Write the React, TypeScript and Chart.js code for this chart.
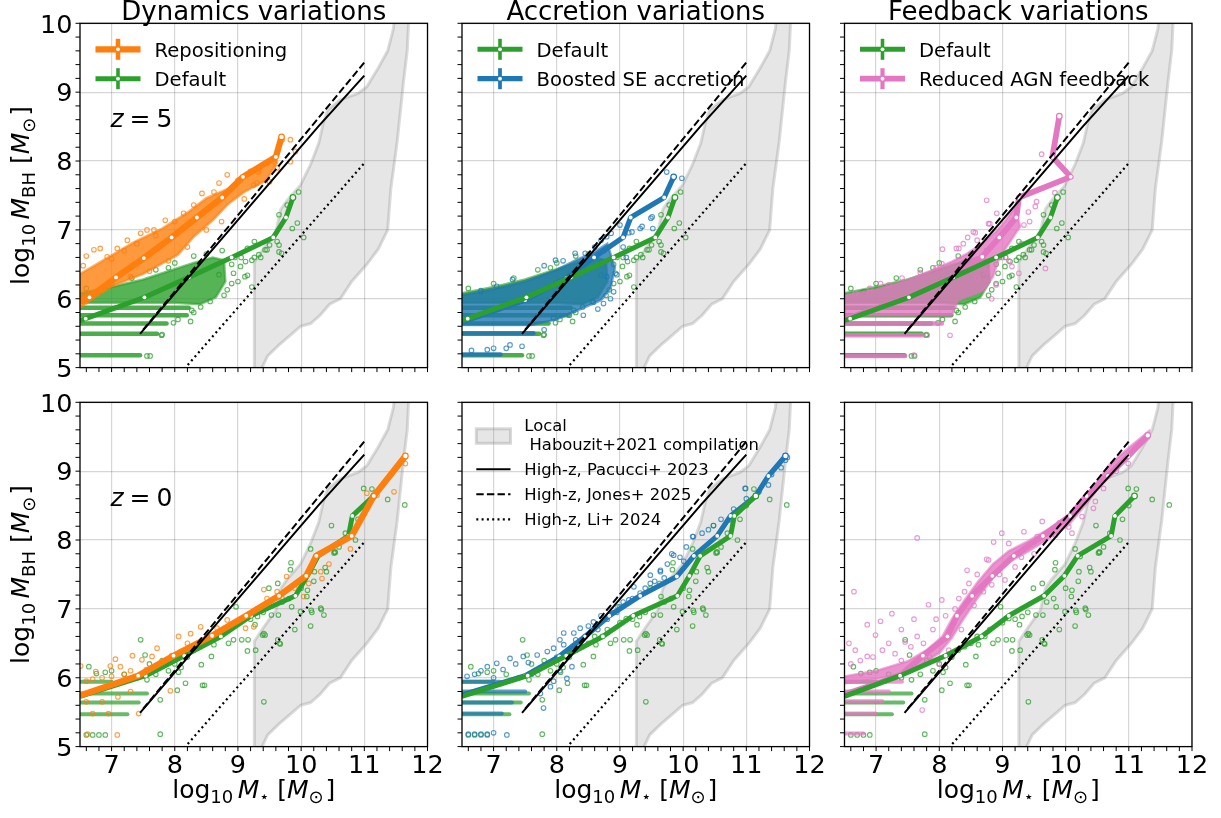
import { useEffect, useRef } from 'react';
import { Chart, registerables } from 'chart.js';

Chart.register(...registerables);

// ---------------- axes / labels ----------------
const X_MIN = 6.5, X_MAX = 12, Y_MIN = 5, Y_MAX = 10;
const X_MAJOR = [7, 8, 9, 10, 11, 12];
const Y_MAJOR = [5, 6, 7, 8, 9, 10];
const X_TICK_LABELS = ['7', '8', '9', '10', '11', '12'];
const Y_TICK_LABELS = ['5', '6', '7', '8', '9', '10'];
const MINOR_PER_UNIT = 5;
const TITLES = ['Dynamics variations', 'Accretion variations', 'Feedback variations'];
const REDSHIFTS = ['5', '0'];
const OBS_LABELS = ['Local', ' Habouzit+2021 compilation', 'High-z, Pacucci+ 2023', 'High-z, Jones+ 2025', 'High-z, Li+ 2024'];

// ---------------- observational relations ----------------
const HAB_X = [9.26, 9.26, 9.42, 9.6, 9.68, 9.78, 9.99, 10.15, 10.28, 10.35, 10.42, 10.62, 10.9, 11.04, 11.22, 11.37, 11.46, 11.49,
  11.71, 11.68, 11.62, 11.52, 11.42, 11.37, 11.22, 11.04, 10.8, 10.62, 10.45, 10.3, 10.15, 9.99, 9.84, 9.65, 9.47, 9.33];
const HAB_Y = [4.9, 6.53, 6.75, 6.98, 7.3, 7.43, 7.65, 7.95, 8.26, 8.55, 8.74, 8.89, 8.98, 9.08, 9.35, 9.6, 9.92, 10.2,
  10.2, 9.61, 9.15, 8.28, 7.6, 7.0, 6.72, 6.5, 6.25, 6.0, 5.92, 5.76, 5.64, 5.6, 5.48, 5.33, 5.17, 4.9];
const PAC_X = [7.45, 10.27, 11.0];
const PAC_Y = [5.49, 8.5, 9.24];
const JON_X = [7.5, 11.0];
const JON_Y = [5.55, 9.43];
const LI_X = [8.15, 11.0];
const LI_Y = [4.98, 7.97];

// ---------------- z = 5 : Default ----------------
const DEF_Z5_MED_X = [6.5, 6.59, 7.52, 8.22, 8.9, 9.56, 9.76, 9.87];
const DEF_Z5_MED_Y = [5.68, 5.71, 6.02, 6.31, 6.6, 6.89, 7.18, 7.47];
const DEF_Z5_POLY = [[6.5, 6.08], [7.0, 6.17], [7.5, 6.28], [7.9, 6.4], [8.3, 6.52], [8.6, 6.6], [8.78, 6.56], [8.8, 6.25], [8.65, 6.02], [8.4, 5.92], [8.0, 5.94], [7.5, 5.94], [6.5, 5.94]];
const DEF_Z5_ROWS = [[6.5, 8.22, 5.87], [6.5, 8.19, 5.76], [6.5, 7.87, 5.64], [6.5, 7.72, 5.49], [6.5, 7.45, 5.18]];
const DEF_Z5_PTS = [[9.15, 6.73], [9.12, 6.54], [9.15, 6.34], [9.22, 6.17], [9.33, 6.64], [9.43, 6.71], [9.62, 6.83], [9.65, 7.22], [9.65, 6.78], [9.65, 6.68], [9.86, 7.02], [9.94, 7.1], [9.96, 7.55], [10.04, 6.89], [9.78, 7.36], [9.26, 6.83], [9.26, 6.6], [9.46, 6.71], [9.04, 6.47], [8.93, 6.37], [8.83, 6.13], [8.78, 6.05], [8.56, 5.96], [8.41, 5.88], [8.25, 5.67], [7.98, 5.65], [7.8, 5.48], [7.56, 5.17], [7.61, 5.17], [8.9, 6.5], [8.95, 6.6], [9.05, 6.6], [8.7, 6.35], [8.9, 6.22], [8.75, 6.7], [8.5, 6.65], [8.3, 6.62], [8.0, 6.52], [7.7, 6.42], [7.32, 6.3], [7.9, 6.45], [9.0, 6.25], [8.3, 5.8], [8.27, 5.83], [8.05, 5.7], [7.79, 5.47], [9.11, 6.32], [9.22, 6.56], [9.69, 6.66], [9.36, 6.6], [9.5, 6.78], [6.6, 6.15], [6.8, 6.1], [7.0, 6.22]];

// ---------------- z = 5 : Repositioning ----------------
const REPOS_Z5_MED_X = [6.5, 6.65, 7.07, 7.51, 7.95, 8.35, 8.75, 9.08, 9.6, 9.69];
const REPOS_Z5_MED_Y = [5.96, 6.02, 6.31, 6.59, 6.89, 7.18, 7.47, 7.77, 8.06, 8.35];
const REPOS_Z5_POLY = [[6.5, 6.36], [6.8, 6.52], [7.35, 6.82], [7.8, 7.02], [8.2, 7.25], [8.5, 7.46], [8.85, 7.6], [9.05, 7.77], [9.35, 7.92], [9.6, 8.08], [9.62, 7.98], [9.45, 7.72], [9.1, 7.55], [8.85, 7.38], [8.6, 7.14], [8.3, 6.9], [8.05, 6.64], [7.5, 6.36], [7.0, 6.18], [6.75, 6.03], [6.5, 5.87]];
const REPOS_Z5_ROWS = [];
const REPOS_Z5_PTS = [[6.72, 6.71], [6.82, 6.73], [6.93, 6.61], [7.09, 6.73], [7.25, 6.85], [7.46, 6.95], [7.56, 7.0], [7.67, 7.0], [7.85, 7.14], [8.14, 7.24], [8.43, 7.53], [8.62, 7.55], [8.83, 7.8], [9.33, 7.87], [9.7, 8.31], [9.83, 8.31], [9.83, 7.99], [9.91, 8.14], [9.57, 7.99], [9.25, 7.65], [8.93, 7.63], [6.6, 6.62], [6.55, 6.48], [7.0, 6.58], [7.2, 6.7], [7.4, 6.8], [7.7, 6.92], [8.0, 7.12], [8.3, 7.36], [8.7, 7.68], [9.0, 7.72], [9.2, 7.85], [9.45, 7.97], [9.3, 7.68], [9.32, 7.84], [8.74, 7.12], [8.5, 7.0], [8.2, 6.75], [7.9, 6.55], [7.6, 6.4], [7.3, 6.32], [9.5, 7.7], [9.62, 7.9], [9.1, 7.45]];

// ---------------- z = 5 : Boosted SE accretion ----------------
const BOOST_Z5_MED_X = [6.5, 7.5, 8.15, 8.59, 9.05, 9.17, 9.7, 9.85];
const BOOST_Z5_MED_Y = [5.66, 5.98, 6.3, 6.6, 6.89, 7.18, 7.47, 7.77];
const BOOST_Z5_POLY = [[6.5, 6.05], [7.0, 6.14], [7.5, 6.25], [8.0, 6.42], [8.3, 6.56], [8.6, 6.68], [8.8, 6.8], [8.92, 6.45], [8.85, 6.15], [8.7, 5.98], [8.35, 5.84], [8.0, 5.7], [7.6, 5.62], [6.5, 5.62]];
const BOOST_Z5_ROWS = [[6.5, 7.63, 5.5], [6.5, 7.11, 5.19]];
const BOOST_Z5_PTS = [[7.98, 6.56], [8.29, 6.66], [8.45, 6.66], [8.52, 6.62], [8.79, 6.9], [8.86, 6.95], [9.0, 7.07], [9.19, 6.97], [9.35, 7.05], [9.51, 7.19], [8.74, 5.93], [8.79, 6.32], [8.58, 5.95], [8.42, 5.76], [8.2, 5.76], [7.95, 5.72], [7.26, 5.33], [7.45, 5.31], [9.74, 7.84], [9.98, 7.75], [9.49, 7.17], [9.32, 7.02], [9.52, 7.02], [9.14, 6.96], [7.3, 6.28], [7.8, 6.48], [8.1, 6.55], [6.8, 6.12], [7.05, 6.18], [8.95, 6.35], [8.9, 6.1], [8.85, 6.0], [8.65, 5.85], [7.8, 5.55], [7.0, 5.28], [6.9, 5.26], [7.2, 5.28], [6.65, 5.25], [8.6, 6.75], [8.7, 6.85], [9.05, 6.75], [9.1, 6.6]];

// ---------------- z = 5 : Reduced AGN feedback ----------------
const REDAGN_Z5_MED_X = [6.5, 7.5, 8.2, 8.68, 8.95, 9.22, 9.26, 10.08, 9.79, 9.9];
const REDAGN_Z5_MED_Y = [5.7, 6.02, 6.31, 6.61, 6.89, 7.18, 7.47, 7.77, 8.06, 8.65];
const REDAGN_Z5_POLY = [[6.5, 6.05], [7.0, 6.13], [7.5, 6.27], [7.9, 6.42], [8.2, 6.54], [8.45, 6.66], [8.7, 6.82], [8.9, 6.98], [9.05, 7.14], [9.2, 7.34], [9.28, 7.05], [9.1, 6.8], [8.95, 6.6], [8.85, 6.32], [8.7, 6.12], [8.3, 5.98], [8.2, 5.76], [6.5, 5.76]];
const REDAGN_Z5_ROWS = [[6.5, 8.04, 5.64], [6.5, 7.73, 5.47], [6.5, 7.46, 5.17]];
const REDAGN_Z5_PTS = [[8.04, 6.51], [8.31, 6.73], [8.45, 6.89], [8.57, 6.96], [8.78, 7.09], [8.91, 7.24], [9.34, 7.07], [9.52, 7.34], [9.68, 6.44], [9.26, 6.37], [8.83, 6.0], [8.17, 5.47], [7.81, 5.47], [7.6, 5.18], [6.67, 6.08], [7.07, 6.22], [7.41, 6.3], [9.62, 8.1], [8.75, 7.43], [9.54, 7.41], [9.41, 7.26], [9.43, 7.12], [8.8, 7.09], [8.54, 6.97], [8.38, 6.8], [8.27, 6.73], [8.05, 6.72], [9.83, 7.54], [9.15, 6.47], [7.7, 6.38], [7.95, 6.45], [8.6, 6.85], [9.0, 6.6], [9.1, 6.55], [8.9, 6.2], [9.3, 6.8], [7.2, 6.2], [6.9, 6.15], [8.75, 6.4], [8.6, 6.3]];

// ---------------- z = 0 : Default ----------------
const DEF_Z0_MED_Y = [5.73, 6.03, 6.32, 6.6, 6.9, 7.19, 7.48, 7.77, 8.06, 8.35, 8.64];
const DEF_Z0_MED_X_A = [6.5, 7.54, 8.15, 8.73, 9.21, 9.91, 10.1, 10.27, 10.75, 10.81, 11.15];
const DEF_Z0_MED_X_B = [6.5, 7.38, 8.1, 8.67, 9.1, 9.66, 9.98, 10.19, 10.72, 10.78, 11.09];
const DEF_Z0_ROWS = [[6.5, 7.0, 5.94], [6.5, 7.56, 5.77], [6.5, 7.43, 5.64], [6.5, 7.25, 5.47]];
const DEF_Z0_PTS = [[10.99, 8.75], [11.12, 8.74], [11.37, 8.59], [11.64, 8.51], [10.48, 8.21], [10.54, 7.82], [10.38, 7.6], [10.15, 7.87], [10.17, 6.95], [10.32, 6.99], [9.83, 7.57], [9.65, 7.18], [9.64, 6.91], [9.67, 6.49], [9.41, 6.64], [9.28, 6.4], [9.15, 6.39], [8.93, 6.55], [8.72, 6.6], [8.62, 6.48], [8.47, 5.89], [8.17, 5.92], [7.77, 5.18], [7.77, 5.68], [7.56, 5.97], [6.64, 6.16], [10.09, 7.18], [10.16, 6.98], [10.4, 7.54], [10.53, 7.83], [9.85, 7.03], [9.66, 6.5], [9.53, 6.91], [9.43, 6.62], [9.27, 6.77], [9.16, 6.55], [9.06, 6.55], [8.85, 6.5], [8.58, 6.31], [8.42, 6.19], [8.06, 6.08], [7.53, 6.33], [6.76, 6.06], [8.0, 6.2], [8.2, 6.3], [8.3, 6.4], [8.4, 6.45], [8.5, 6.5], [8.1, 6.15], [7.9, 6.1], [7.7, 6.05], [7.4, 6.0], [7.2, 6.05], [7.0, 6.1], [6.9, 6.08], [7.6, 6.2], [7.8, 6.25], [8.6, 6.6], [8.8, 6.7], [9.0, 6.8], [9.2, 6.85], [9.4, 6.95], [9.7, 7.1], [10.0, 7.3], [10.2, 7.4], [10.6, 7.9], [10.7, 8.1], [10.9, 8.3], [11.0, 8.5], [9.9, 6.7], [9.49, 7.3], [9.63, 7.37], [9.81, 7.15], [9.99, 6.96], [10.15, 6.75], [10.31, 7.01], [10.36, 6.91], [10.1, 7.27], [10.21, 7.54], [10.23, 7.76], [10.52, 7.81], [10.86, 8.0], [9.84, 7.67], [9.41, 5.65], [8.44, 5.89], [8.04, 5.82], [7.46, 6.55], [8.97, 7.03], [9.1, 6.86], [9.31, 6.89], [9.39, 6.62], [9.63, 6.55], [6.6, 5.17], [6.7, 5.17], [6.8, 5.17], [6.9, 5.17]];

// ---------------- z = 0 : Repositioning ----------------
const REPOS_Z0_MED_X = [6.5, 7.42, 7.98, 8.59, 9.13, 9.65, 10.08, 10.24, 10.8, 11.15, 11.65];
const REPOS_Z0_MED_Y = [5.74, 6.03, 6.32, 6.61, 6.9, 7.19, 7.48, 7.77, 8.06, 8.64, 9.22];
const REPOS_Z0_PTS = [[6.51, 6.17], [6.75, 6.09], [6.98, 6.17], [7.06, 6.27], [7.14, 6.16], [7.33, 6.32], [7.48, 6.26], [7.64, 6.31], [7.72, 6.43], [7.88, 6.26], [7.93, 5.81], [8.06, 6.6], [8.2, 6.5], [8.25, 6.64], [8.41, 6.74], [8.43, 6.55], [8.67, 6.72], [8.83, 6.84], [9.12, 6.72], [9.25, 6.74], [9.41, 7.28], [9.46, 7.15], [9.62, 7.25], [9.77, 7.47], [10.04, 7.18], [10.12, 7.37], [10.31, 7.54], [10.33, 7.44], [10.44, 7.65], [10.78, 7.87], [11.04, 8.68], [11.2, 8.65], [11.47, 8.7], [11.65, 9.11], [7.09, 5.17], [7.43, 5.48], [6.6, 5.95], [6.7, 5.98], [6.85, 6.0], [7.0, 6.02], [7.2, 6.05], [7.3, 6.1], [7.55, 6.12], [7.7, 6.15], [7.8, 6.2], [7.95, 6.32], [8.1, 6.38], [8.3, 6.45], [8.55, 6.58], [8.7, 6.62], [8.9, 6.75], [9.0, 6.82], [9.3, 7.0], [9.5, 7.05], [9.7, 7.15], [9.9, 7.3], [10.15, 7.55], [10.5, 7.9], [6.6, 5.65], [6.85, 5.65], [7.1, 5.72], [7.3, 5.8], [6.7, 5.48], [6.95, 5.48], [6.62, 5.18]];

// ---------------- z = 0 : Boosted SE accretion ----------------
const BOOST_Z0_MED_X = [6.5, 7.5, 8.04, 8.45, 8.83, 9.32, 9.9, 10.17, 10.54, 10.75, 11.15, 11.35, 11.62];
const BOOST_Z0_MED_Y = [5.75, 6.03, 6.31, 6.6, 6.9, 7.19, 7.47, 7.77, 8.06, 8.35, 8.64, 8.93, 9.22];
const BOOST_Z0_ROWS = [[6.5, 7.1, 5.94], [6.5, 7.5, 5.8], [6.5, 7.29, 5.64], [6.5, 7.13, 5.48]];
const BOOST_Z0_PTS = [[6.58, 6.02], [6.9, 6.16], [7.05, 6.21], [7.26, 6.28], [7.47, 6.31], [7.69, 6.33], [7.95, 6.43], [8.11, 6.48], [8.27, 6.65], [8.37, 6.72], [8.58, 6.81], [8.87, 6.94], [9.0, 7.03], [9.14, 7.13], [9.32, 7.23], [9.48, 7.37], [9.64, 7.54], [9.85, 7.78], [10.16, 8.05], [10.48, 8.21], [10.72, 8.29], [10.98, 8.75], [11.35, 8.8], [11.62, 9.16], [7.79, 5.56], [7.74, 5.77], [7.9, 5.87], [8.16, 5.99], [8.24, 6.16], [7.21, 5.17], [7.0, 5.2], [6.9, 5.18], [6.8, 5.18], [6.7, 5.18], [6.6, 5.18], [8.11, 6.65], [9.22, 7.32], [9.48, 7.49], [9.64, 7.56], [9.82, 7.8], [10.01, 7.69], [10.15, 8.05], [6.7, 6.05], [6.8, 6.1], [7.0, 6.0], [7.15, 6.12], [7.35, 6.2], [7.55, 6.22], [7.6, 6.05], [7.8, 6.18], [7.85, 6.38], [8.0, 6.3], [8.05, 6.55], [8.2, 6.4], [8.3, 6.55], [8.45, 6.6], [8.5, 6.75], [8.65, 6.7], [8.7, 6.9], [8.8, 6.85], [8.95, 6.95], [9.05, 7.1], [9.2, 7.15], [9.4, 7.3], [9.55, 7.4], [9.7, 7.45], [9.75, 7.65], [9.95, 7.75], [10.05, 7.9], [10.3, 8.1], [10.4, 8.15], [10.6, 8.3], [10.8, 8.45], [11.0, 8.6], [11.2, 8.7], [11.4, 8.95], [11.55, 9.05], [11.65, 9.2], [7.95, 5.95], [8.05, 6.1]];

// ---------------- z = 0 : Reduced AGN feedback ----------------
const REDAGN_Z0_MED_X = [6.5, 7.38, 7.74, 8.13, 8.28, 8.52, 8.84, 9.18, 9.64, 10.07, 10.33, 10.67, 10.99, 11.3];
const REDAGN_Z0_MED_Y = [5.76, 6.03, 6.32, 6.6, 6.9, 7.19, 7.48, 7.77, 8.06, 8.35, 8.64, 8.93, 9.22, 9.52];
const REDAGN_Z0_POLY = [[6.5, 6.02], [7.0, 6.1], [7.5, 6.24], [7.8, 6.4], [8.05, 6.6], [8.2, 6.85], [8.38, 7.1], [8.6, 7.38], [8.85, 7.65], [9.1, 7.84], [9.4, 7.98], [9.75, 8.17], [10.05, 8.36], [10.35, 8.66], [10.7, 9.1], [11.0, 9.34], [11.32, 9.58], [11.32, 9.48], [11.0, 9.2], [10.7, 8.98], [10.35, 8.55], [10.05, 8.22], [9.75, 8.03], [9.4, 7.83], [9.1, 7.68], [8.85, 7.45], [8.6, 7.15], [8.38, 6.85], [8.2, 6.58], [8.0, 6.36], [7.7, 6.18], [7.3, 6.04], [7.0, 5.98], [6.5, 5.92]];
const REDAGN_Z0_ROWS = [[6.5, 7.41, 5.94], [6.5, 7.2, 5.8], [6.5, 7.1, 5.66], [6.5, 7.0, 5.48], [6.5, 6.8, 5.19]];
const REDAGN_Z0_PTS = [[6.65, 7.25], [6.86, 6.77], [6.99, 6.62], [7.25, 6.93], [6.57, 6.5], [6.67, 6.4], [6.86, 6.31], [7.07, 6.82], [7.2, 6.5], [7.46, 6.52], [7.83, 7.06], [8.04, 7.13], [8.31, 7.15], [8.44, 7.56], [8.47, 7.37], [8.78, 7.71], [8.83, 7.35], [9.04, 7.42], [9.2, 7.61], [9.34, 8.12], [8.99, 8.1], [8.86, 7.97], [8.75, 7.72], [9.63, 8.27], [9.84, 8.07], [10.05, 8.19], [10.26, 8.34], [10.47, 8.56], [7.73, 5.53], [7.65, 8.03], [10.44, 8.46], [10.99, 9.11], [6.6, 6.2], [6.75, 6.25], [6.95, 6.3], [7.1, 6.4], [7.3, 6.35], [7.4, 6.25], [7.55, 6.45], [7.65, 6.6], [7.75, 6.5], [7.9, 6.7], [7.95, 6.85], [8.1, 6.9], [8.15, 6.4], [8.25, 7.0], [8.35, 6.7], [8.4, 7.25], [8.55, 7.05], [8.6, 7.5], [8.7, 7.25], [8.95, 7.5], [9.1, 7.95], [9.3, 7.75], [9.5, 7.8], [9.55, 8.05], [9.9, 8.25], [10.1, 8.1], [10.2, 8.45], [10.6, 8.75], [10.8, 9.0], [7.4, 6.7], [7.6, 6.85], [8.0, 6.2], [7.85, 6.3]];

// ---------------- styling / layout ----------------
const FIG_W = 1221, FIG_H = 818;
const COL_LEFT = [80, 462, 844.5];
const ROW_TOP = [23.3, 402.3];
const AX_W = 347.5, AX_H = 344.3;
const FONT = '"DejaVu Sans", "Liberation Sans", sans-serif';
const GREEN = '44,160,44', ORANGE = '255,127,14', BLUE = '31,119,180', PINK = '227,119,194';

const mk = (name, rgb, lw, medX, medY, poly, rows, pts) => ({ name, rgb, lw, medX, medY, poly, rows, pts });
const S_DEF_Z5 = mk('Default', GREEN, 5, DEF_Z5_MED_X, DEF_Z5_MED_Y, DEF_Z5_POLY, DEF_Z5_ROWS, DEF_Z5_PTS);
const S_REPOS_Z5 = mk('Repositioning', ORANGE, 6.3, REPOS_Z5_MED_X, REPOS_Z5_MED_Y, REPOS_Z5_POLY, REPOS_Z5_ROWS, REPOS_Z5_PTS);
const S_BOOST_Z5 = mk('Boosted SE accretion', BLUE, 5.2, BOOST_Z5_MED_X, BOOST_Z5_MED_Y, BOOST_Z5_POLY, BOOST_Z5_ROWS, BOOST_Z5_PTS);
const S_REDAGN_Z5 = mk('Reduced AGN feedback', PINK, 5.8, REDAGN_Z5_MED_X, REDAGN_Z5_MED_Y, REDAGN_Z5_POLY, REDAGN_Z5_ROWS, REDAGN_Z5_PTS);
const S_DEF_Z0_A = mk('Default', GREEN, 5, DEF_Z0_MED_X_A, DEF_Z0_MED_Y, [], DEF_Z0_ROWS, DEF_Z0_PTS);
const S_DEF_Z0_B = mk('Default', GREEN, 5, DEF_Z0_MED_X_B, DEF_Z0_MED_Y, [], DEF_Z0_ROWS, DEF_Z0_PTS);
const S_REPOS_Z0 = mk('Repositioning', ORANGE, 6.3, REPOS_Z0_MED_X, REPOS_Z0_MED_Y, [], [], REPOS_Z0_PTS);
const S_BOOST_Z0 = mk('Boosted SE accretion', BLUE, 5.2, BOOST_Z0_MED_X, BOOST_Z0_MED_Y, [], BOOST_Z0_ROWS, BOOST_Z0_PTS);
const S_REDAGN_Z0 = mk('Reduced AGN feedback', PINK, 5.8, REDAGN_Z0_MED_X, REDAGN_Z0_MED_Y, REDAGN_Z0_POLY, REDAGN_Z0_ROWS, REDAGN_Z0_PTS);

const PANELS = [
  { col: 0, row: 0, def: S_DEF_Z5, vari: S_REPOS_Z5, varOnTop: true, legend: [S_REPOS_Z5, S_DEF_Z5] },
  { col: 1, row: 0, def: S_DEF_Z5, vari: S_BOOST_Z5, varOnTop: false, legend: [S_DEF_Z5, S_BOOST_Z5] },
  { col: 2, row: 0, def: S_DEF_Z5, vari: S_REDAGN_Z5, varOnTop: false, legend: [S_DEF_Z5, S_REDAGN_Z5] },
  { col: 0, row: 1, def: S_DEF_Z0_A, vari: S_REPOS_Z0, varOnTop: true, legend: null },
  { col: 1, row: 1, def: S_DEF_Z0_A, vari: S_BOOST_Z0, varOnTop: false, legend: null, obs: true },
  { col: 2, row: 1, def: S_DEF_Z0_B, vari: S_REDAGN_Z0, varOnTop: false, legend: null },
];

const rgba = (rgb, a) => `rgba(${rgb},${a})`;
const zip = (xs, ys) => xs.map((x, i) => ({ x, y: ys[i] }));
const fnt = (size, italic) => `${italic ? 'italic ' : ''}${size}px ${FONT}`;

function cloudSets(s, base, row) {
  const out = [];
  if (s.poly.length) {
    out.push({ type: 'line', data: s.poly.map(([x, y]) => ({ x, y })), showLine: true, fill: 'shape',
      backgroundColor: rgba(s.rgb, 0.8), borderColor: rgba(s.rgb, 0.6), borderWidth: 2.5, pointRadius: 0, order: base + 1 });
  }
  s.rows.forEach(([a, b, y]) => out.push({ type: 'line', data: [{ x: a, y }, { x: b, y }], showLine: true, fill: false,
    borderColor: rgba(s.rgb, row === 0 ? 0.85 : 0.72), borderWidth: row === 0 ? 4.5 : 4, borderCapStyle: 'round', pointRadius: 0, order: base + 1 }));
  out.push({ type: 'line', data: s.pts.map(([x, y]) => ({ x, y })), showLine: false, fill: false,
    pointRadius: 2.3, pointBorderWidth: 1.1, pointBackgroundColor: 'rgba(255,255,255,0)', pointBorderColor: rgba(s.rgb, 0.75), order: base });
  return out;
}

function medianSet(s, order) {
  const n = s.medX.length;
  return { type: 'line', data: zip(s.medX, s.medY), showLine: true, fill: false, borderColor: rgba(s.rgb, 1), borderWidth: s.lw,
    borderJoinStyle: 'round', borderCapStyle: 'butt',
    pointRadius: (c) => (c.raw && c.raw.x <= X_MIN ? 0 : c.dataIndex === n - 1 ? 2.8 : 1.9),
    pointBackgroundColor: '#fff', pointBorderColor: rgba(s.rgb, 1),
    pointBorderWidth: (c) => (c.dataIndex === n - 1 ? 1.2 : 0), order };
}

function buildDatasets(p) {
  return [
    { type: 'line', data: zip(HAB_X, HAB_Y), showLine: true, fill: 'shape', backgroundColor: 'rgba(128,128,128,0.2)',
      borderColor: 'rgba(128,128,128,0.28)', borderWidth: 3, pointRadius: 0, order: 100 },
    ...cloudSets(p.def, 60, p.row),
    ...cloudSets(p.vari, 50, p.row),
    medianSet(p.def, p.varOnTop ? 11 : 10),
    medianSet(p.vari, p.varOnTop ? 10 : 11),
    { type: 'line', data: zip(PAC_X, PAC_Y), showLine: true, fill: false, borderColor: '#000', borderWidth: 2, pointRadius: 0, order: 1 },
    { type: 'line', data: zip(JON_X, JON_Y), showLine: true, fill: false, borderColor: '#000', borderWidth: 2, borderDash: [7.4, 3.2], pointRadius: 0, order: 1 },
    { type: 'line', data: zip(LI_X, LI_Y), showLine: true, fill: false, borderColor: '#000', borderWidth: 2.2, borderDash: [2, 3.3], pointRadius: 0, order: 1 },
  ];
}

function drawSegs(ctx, segs, x, y) {
  const ws = segs.map((s) => { ctx.font = fnt(s[1], s[2]); return ctx.measureText(s[0]).width; });
  const total = ws.reduce((a, b) => a + b, 0);
  let cx = x - total / 2;
  segs.forEach((s, i) => { ctx.font = fnt(s[1], s[2]); ctx.fillText(s[0], cx, y + s[3]); cx += ws[i]; });
}

const Y_LABEL_SEGS = [['log', 25, false, 0], ['10', 18, false, 5.5], [' ', 14, false, 0], ['M', 25, true, 0], ['BH', 18, false, 5.5], [' [', 25, false, 0], ['M', 25, true, 0], ['\u2299', 18, false, 5.5], [' ', 6, false, 0], [']', 25, false, 0]];
const X_LABEL_SEGS = [['log', 25, false, 0], ['10', 18, false, 5.5], [' ', 14, false, 0], ['M', 25, true, 0], ['\u22c6', 16, false, 4], [' [', 25, false, 0], ['M', 25, true, 0], ['\u2299', 18, false, 5.5], [' ', 6, false, 0], [']', 25, false, 0]];

function makeDeco(p) {
  return {
    id: 'deco',
    afterDraw(chart) {
      const { ctx, chartArea: a } = chart;
      const xs = chart.scales.x, ys = chart.scales.y;
      ctx.save();
      ctx.strokeStyle = '#000';
      ctx.fillStyle = '#000';
      ctx.lineWidth = 1;
      ctx.beginPath();
      for (let k = Math.ceil(X_MIN * MINOR_PER_UNIT); k <= X_MAX * MINOR_PER_UNIT; k++) {
        const px = xs.getPixelForValue(k / MINOR_PER_UNIT);
        ctx.moveTo(px, a.bottom); ctx.lineTo(px, a.bottom + 4.5);
      }
      for (let k = Math.ceil(Y_MIN * MINOR_PER_UNIT); k <= Y_MAX * MINOR_PER_UNIT; k++) {
        const py = ys.getPixelForValue(k / MINOR_PER_UNIT);
        ctx.moveTo(a.left - 4.5, py); ctx.lineTo(a.left, py);
      }
      ctx.stroke();
      ctx.lineWidth = 1.3;
      ctx.strokeRect(a.left, a.top, a.right - a.left, a.bottom - a.top);

      ctx.textBaseline = 'alphabetic';
      if (p.col === 0) {
        ctx.font = fnt(25.5, false); ctx.textAlign = 'right';
        Y_MAJOR.forEach((v, i) => ctx.fillText(Y_TICK_LABELS[i], a.left - 7.5, ys.getPixelForValue(v) + 9.3));
      }
      if (p.row === 1) {
        ctx.font = fnt(25.5, false); ctx.textAlign = 'center';
        X_MAJOR.forEach((v, i) => ctx.fillText(X_TICK_LABELS[i], xs.getPixelForValue(v), a.bottom + 26.8));
      }
      ctx.textAlign = 'left';
      if (p.row === 1) drawSegs(ctx, X_LABEL_SEGS, (a.left + a.right) / 2, a.bottom + 51.3);
      if (p.col === 0) {
        ctx.save();
        ctx.translate(a.left - 51, (a.top + a.bottom) / 2);
        ctx.rotate(-Math.PI / 2);
        drawSegs(ctx, Y_LABEL_SEGS, 0, 0);
        ctx.restore();
      }
      if (p.row === 0) {
        ctx.font = fnt(26, false); ctx.textAlign = 'center';
        ctx.fillText(TITLES[p.col], (a.left + a.right) / 2, a.top - 3.8);
        ctx.textAlign = 'left';
      }
      if (p.col === 0) {
        const zx = a.left + 30.5, zy = a.top + 103.4;
        ctx.font = fnt(25, true); ctx.fillText('z', zx, zy);
        const wz = ctx.measureText('z').width;
        ctx.font = fnt(25, false); ctx.fillText('=', zx + wz + 6, zy);
        const we = ctx.measureText('=').width;
        ctx.fillText(REDSHIFTS[p.row], zx + wz + 6 + we + 6, zy);
      }
      if (p.legend) {
        p.legend.forEach((s, i) => {
          const cy = a.top + 26 + i * 29.4;
          const x0 = a.left + 15.5, x1 = a.left + 60.5, xc = (x0 + x1) / 2;
          ctx.strokeStyle = rgba(s.rgb, 1); ctx.lineCap = 'butt';
          ctx.lineWidth = s.lw;
          ctx.beginPath(); ctx.moveTo(x0, cy); ctx.lineTo(x1, cy); ctx.stroke();
          ctx.lineWidth = s.lw * 0.72;
          ctx.beginPath(); ctx.moveTo(xc, cy - 10.5); ctx.lineTo(xc, cy + 10.5); ctx.stroke();
          ctx.fillStyle = '#fff';
          ctx.beginPath(); ctx.arc(xc, cy, 1.9, 0, Math.PI * 2); ctx.fill();
          ctx.fillStyle = '#000';
          ctx.font = fnt(19.6, false);
          ctx.fillText(s.name, a.left + 74.5, cy + 7.3);
        });
      }
      if (p.obs) {
        const lx0 = a.left + 14.3, lx1 = a.left + 48.5, tx = a.left + 62.3;
        ctx.fillStyle = 'rgba(128,128,128,0.2)';
        ctx.fillRect(lx0, a.top + 26.5, lx1 - lx0, 14.5);
        ctx.strokeStyle = 'rgba(128,128,128,0.3)'; ctx.lineWidth = 3;
        ctx.strokeRect(lx0, a.top + 26.5, lx1 - lx0, 14.5);
        ctx.fillStyle = '#000';
        ctx.font = fnt(16.4, false);
        ctx.fillText(OBS_LABELS[0], tx, a.top + 28.7);
        ctx.fillText(OBS_LABELS[1], tx, a.top + 47.2);
        const lines = [[a.top + 67, [], 2], [a.top + 92, [7.4, 3.2], 2], [a.top + 117, [2, 3.3], 2.2]];
        lines.forEach(([ly, dash, lw], i) => {
          ctx.strokeStyle = '#000'; ctx.lineWidth = lw; ctx.setLineDash(dash);
          ctx.beginPath(); ctx.moveTo(lx0, ly); ctx.lineTo(lx1, ly); ctx.stroke();
          ctx.setLineDash([]);
          ctx.fillText(OBS_LABELS[i + 2], tx, ly + 5.7);
        });
      }
      ctx.restore();
    },
  };
}

function Panel({ p }) {
  const ref = useRef(null);
  useEffect(() => {
    const left = COL_LEFT[p.col], top = ROW_TOP[p.row];
    const gridColor = 'rgba(0,0,0,0.16)';
    const chart = new Chart(ref.current, {
      type: 'line',
      data: { datasets: buildDatasets(p) },
      options: {
        responsive: false,
        animation: false,
        devicePixelRatio: 1,
        events: [],
        layout: { padding: { left, top, right: FIG_W - left - AX_W, bottom: FIG_H - top - AX_H } },
        plugins: { legend: { display: false }, tooltip: { enabled: false } },
        scales: {
          x: {
            type: 'linear', min: X_MIN, max: X_MAX,
            ticks: { display: false },
            grid: { color: gridColor, lineWidth: 1.2, drawTicks: false },
            border: { display: false },
            afterBuildTicks: (s) => { s.ticks = X_MAJOR.map((v) => ({ value: v })); },
            afterFit: (s) => { s.height = 0; },
          },
          y: {
            type: 'linear', min: Y_MIN, max: Y_MAX,
            ticks: { display: false },
            grid: { color: gridColor, lineWidth: 1.2, drawTicks: false },
            border: { display: false },
            afterBuildTicks: (s) => { s.ticks = Y_MAJOR.map((v) => ({ value: v })); },
            afterFit: (s) => { s.width = 0; },
          },
        },
      },
      plugins: [makeDeco(p)],
    });
    return () => chart.destroy();
  }, []);
  return (
    <canvas ref={ref} width={FIG_W} height={FIG_H}
      style={{ position: 'absolute', left: 0, top: 0, width: FIG_W, height: FIG_H }} />
  );
}

export default function App() {
  return (
    <div style={{ position: 'fixed', left: 0, top: 0, width: FIG_W, height: FIG_H, background: '#fff', overflow: 'hidden' }}>
      {PANELS.map((p, i) => <Panel key={i} p={p} />)}
    </div>
  );
}
